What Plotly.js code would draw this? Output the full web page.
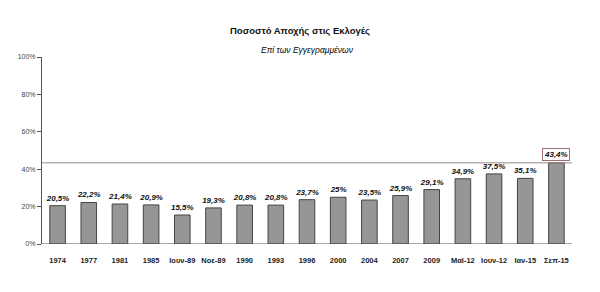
<!DOCTYPE html>
<html><head><meta charset="utf-8">
<script src="https://cdn.plot.ly/plotly-3.0.1.min.js"></script>
<style>html,body{margin:0;padding:0;background:#fff}#c{width:600px;height:292px}</style>
</head><body><div id="c"></div>
<script>
var categories = ['1974','1977','1981','1985','Ιουν-89','Νοε-89','1990','1993','1996','2000','2004','2007','2009','Μαϊ-12','Ιουν-12','Ιαν-15','Σεπ-15'];
var values = [20.5,22.2,21.4,20.9,15.5,19.3,20.8,20.8,23.7,25,23.5,25.9,29.1,34.9,37.5,35.1,43.4];
var yTicks = [0,20,40,60,80,100];

function lbl(v){ return String(v).replace('.', ',') + '%'; }
var last = values.length - 1;
var texts = values.map(function(v,i){ return i === last ? '' : lbl(v); });

var trace = {
  type: 'bar', x: categories, y: values,
  marker: {color: '#969696', line: {color: '#444', width: 1}},
  text: texts, textposition: 'outside', cliponaxis: false, constraintext: 'none',
  textfont: {family: 'Liberation Sans, Arial', size: 8, color: '#111', weight: 'bold', style: 'italic'},
  hoverinfo: 'none'
};

var layout = {
  width: 600, height: 292,
  margin: {l: 42, r: 28, t: 57, b: 48},
  paper_bgcolor: '#fff', plot_bgcolor: '#fff',
  font: {family: 'Liberation Sans, Arial', color: '#222'},
  showlegend: false,
  bargap: 0.5,
  title: {text: 'Ποσοστό Αποχής στις Εκλογές', x: 0.5, xanchor: 'center', y: 1 - 31/292, yanchor: 'middle',
          font: {size: 9.5, weight: 'bold', color: '#111'}},
  xaxis: {type: 'category', showgrid: false, zeroline: false, showline: false, ticks: '',
          ticklabelstandoff: 10,
          tickfont: {size: 7.5, weight: 'bold', color: '#222'}, fixedrange: true},
  yaxis: {range: [0, 100], tickvals: yTicks, ticktext: yTicks.map(function(t){return t + '%';}),
          showgrid: false, zeroline: false, showline: true, linecolor: '#555', linewidth: 1,
          ticks: 'outside', ticklen: 4, tickcolor: '#555',
          tickfont: {size: 7, color: '#444'}, fixedrange: true},
  shapes: [
    {type: 'line', xref: 'paper', yref: 'y', x0: 0, x1: 1, y0: values[last], y1: values[last],
     line: {color: '#9a8a8a', width: 1}},
    {type: 'line', xref: 'paper', yref: 'y', x0: 0, x1: 1, y0: 0, y1: 0,
     line: {color: '#555', width: 1}}
  ],
  annotations: [
    {text: '<i>Επί των Εγγεγραμμένων</i>', xref: 'paper', yref: 'paper', x: 0.5, y: 1 + 7/187,
     xanchor: 'center', yanchor: 'middle', showarrow: false, font: {size: 8.5, color: '#000'}},
    {text: '<b><i>' + lbl(values[last]) + '</i></b>', xref: 'x', yref: 'y', x: categories[last], y: values[last],
     yanchor: 'bottom', yshift: 2, showarrow: false, bordercolor: '#9a7070', borderwidth: 1, borderpad: 1,
     bgcolor: '#fff', font: {size: 8, color: '#111'}}
  ]
};

Plotly.newPlot('c', [trace], layout, {staticPlot: true, displayModeBar: false});
</script>
</body></html>
